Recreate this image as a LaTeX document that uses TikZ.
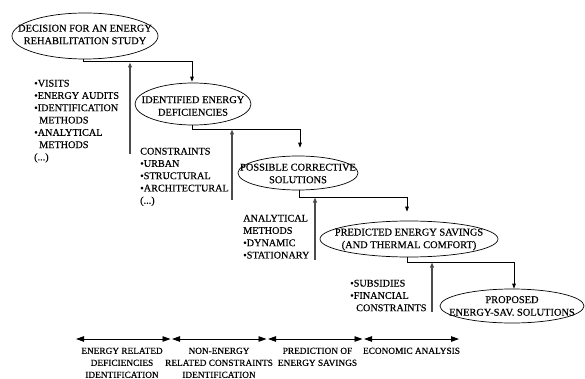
\documentclass[tikz,border=0pt]{standalone}
\usepackage{fontspec}
\setmainfont{Liberation Serif}[FakeBold=0.4]
\usetikzlibrary{arrows.meta,shapes.geometric}
\begin{document}
\begin{tikzpicture}[x=1pt,y=-1pt,
  ell/.style={draw, ellipse, inner sep=0pt, line width=0.7pt},
  etxt/.style={align=center, inner sep=0pt, font=\fontsize{10.4}{12.6}\selectfont},
  btxt/.style={align=left, inner sep=0pt, anchor=north west, font=\fontsize{10.2}{12.3}\selectfont},
  ltxt/.style={align=center, inner sep=0pt, anchor=north, font=\fontsize{9.3}{12}\selectfont},
  conn/.style={line width=0.8pt, -{Triangle[length=5pt,width=3.6pt]}},
  uparr/.style={line width=1.2pt, black!70, -{Triangle[length=5pt,width=3.8pt]}},
  span/.style={line width=0.9pt, {Triangle[length=8pt,width=5.5pt]}-{Triangle[length=8pt,width=5.5pt]}}
]
\useasboundingbox (0,0) rectangle (585,379);

% ellipses
\node[ell, minimum width=146pt, minimum height=46pt] (e1) at (85,36) {};
\node[etxt] (t1) at (85,34.5) {DECISION FOR AN ENERGY\\REHABILITATION STUDY};
\node[ell, minimum width=116pt, minimum height=42pt] (e2) at (193,104) {};
\node[etxt] (t2) at (193,106) {IDENTIFIED ENERGY\\DEFICIENCIES};
\node[ell, minimum width=120pt, minimum height=34pt] (e3) at (298,173) {};
\node[etxt] (t3) at (298,173.5) {POSSIBLE CORRECTIVE\\SOLUTIONS};
\node[ell, minimum width=178pt, minimum height=36pt] (e4) at (409,239) {};
\node[etxt] (t4) at (409,239.5) {PREDICTED ENERGY SAVINGS\\(AND THERMAL COMFORT)};
\node[ell, minimum width=144pt, minimum height=34pt] (e5) at (512,306) {};
\node[etxt] (t5) at (512,306) {PROPOSED\\ENERGY-SAV. SOLUTIONS};

% connectors between ellipses
\draw[conn] ([xshift=-2pt]e1.south) -- ++(0,2.5) -| ([yshift=1pt,xshift=-1pt]e2.north);
\draw[conn] ([xshift=-1pt]e2.south) -- ++(0,4) -| ([yshift=8pt,xshift=2pt]e3.north);
\draw[conn] ([xshift=1pt]e3.south) -- ++(0,7) -| ([yshift=9pt,xshift=-2pt]e4.north);
\draw[conn] ([xshift=-2pt]e4.south) -- ++(0,5) -| ([yshift=0pt,xshift=2pt]e5.north);

% upward arrows
\coordinate (u1a) at (130,154); \coordinate (u1b) at (130,62.5);
\coordinate (u2a) at (232,200); \coordinate (u2b) at (232,129.5);
\coordinate (u3a) at (315,260); \coordinate (u3b) at (315,197.5);
\coordinate (u4a) at (432,312); \coordinate (u4b) at (432,262.5);
\draw[uparr] (u1a) -- (u1b);
\draw[uparr] (u2a) -- (u2b);
\draw[uparr] (u3a) -- (u3b);
\draw[uparr] (u4a) -- (u4b);

% side texts
\node[btxt] (s1) at (34,79.6) {•VISITS\\•ENERGY AUDITS\\•IDENTIFICATION\\\hspace*{5pt}METHODS\\•ANALYTICAL\\\hspace*{5pt}METHODS\\(...)};
\node[btxt] (s2) at (140,147.6) {CONSTRAINTS\\•URBAN\\•STRUCTURAL\\•ARCHITECTURAL\\(...)};
\node[btxt] (s3) at (243,214.6) {ANALYTICAL\\METHODS\\•DYNAMIC\\•STATIONARY};
\node[btxt] (s4) at (350,279.6) {•SUBSIDIES\\•FINANCIAL\\\hspace*{6pt}CONSTRAINTS};

% bottom phase arrows
\coordinate (b0) at (76,339); \coordinate (b1) at (170.5,339);
\coordinate (b1r) at (172,339); \coordinate (b2) at (266.5,339);
\coordinate (b2r) at (268,339); \coordinate (b3) at (362.5,339);
\coordinate (b3r) at (364,339); \coordinate (b4) at (459,339);
\draw[span] (b0) -- (b1);
\draw[span] (b1r) -- (b2);
\draw[span] (b2r) -- (b3);
\draw[span] (b3r) -- (b4);

\node[ltxt] (l1) at (122,347.5) {ENERGY RELATED\\DEFICIENCIES\\IDENTIFICATION};
\node[ltxt] (l2) at (219,347.5) {NON-ENERGY\\RELATED CONSTRAINTS\\IDENTIFICATION};
\node[ltxt] (l3) at (317.5,347.5) {PREDICTION OF\\ENERGY SAVINGS};
\node[ltxt] (l4) at (411.5,347.5) {ECONOMIC ANALYSIS};
\end{tikzpicture}
\end{document}
